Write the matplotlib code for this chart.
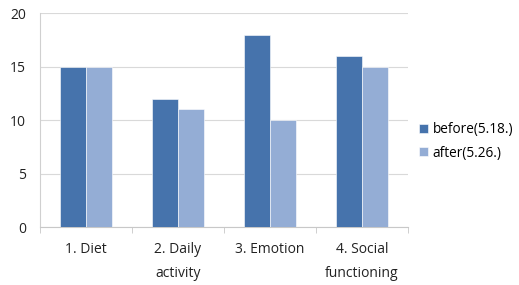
import numpy as np
import matplotlib.pyplot as plt

categories = ["1. Diet", "2. Daily\nactivity", "3. Emotion", "4. Social\nfunctioning"]
before = [15, 12, 18, 16]
after = [15, 11, 10, 15]
series_labels = ["before(5.18.)", "after(5.26.)"]

plt.rcParams['font.family'] = ['Open Sans', 'DejaVu Sans']

fig = plt.figure(figsize=(5.19, 2.85), dpi=100)
ax = fig.add_axes([0.077, 0.2035, 0.709, 0.75])

x = np.arange(len(categories))
width = 0.28
ax.bar(x - width/2, before, width, color='#4673AC', edgecolor='white', linewidth=0.4, label=series_labels[0], zorder=3)
ax.bar(x + width/2, after, width, color='#94ADD5', edgecolor='white', linewidth=0.4, label=series_labels[1], zorder=3)

ax.set_xlim(-0.5, len(categories) - 0.5)
ax.set_ylim(0, 20)
ax.set_yticks([0, 5, 10, 15, 20])
ax.grid(axis='y', color='#D9D9D9', linewidth=0.8, zorder=0)

for s in ['top', 'right']:
    ax.spines[s].set_visible(False)
ax.spines['left'].set_color('#D0D0D0')
ax.spines['bottom'].set_color('#C8C8C8')

ax.set_xticks(x)
ax.set_xticklabels(categories, fontsize=10, linespacing=1.75, color='#222222')
ax.set_xticks(np.arange(len(categories) + 1) - 0.5, minor=True)
ax.tick_params(axis='x', which='major', length=0, pad=11)
ax.tick_params(axis='x', which='minor', length=4, color='#C8C8C8')
ax.tick_params(axis='y', length=0, pad=10, labelsize=10, labelcolor='#222222')

ax.legend(loc='center left', bbox_to_anchor=(1.0, 0.40), frameon=False, fontsize=9.8,
          handlelength=0.65, handleheight=0.65, handletextpad=0.35, labelspacing=0.6,
          borderpad=0.3)

plt.savefig('out.png', dpi=100)
